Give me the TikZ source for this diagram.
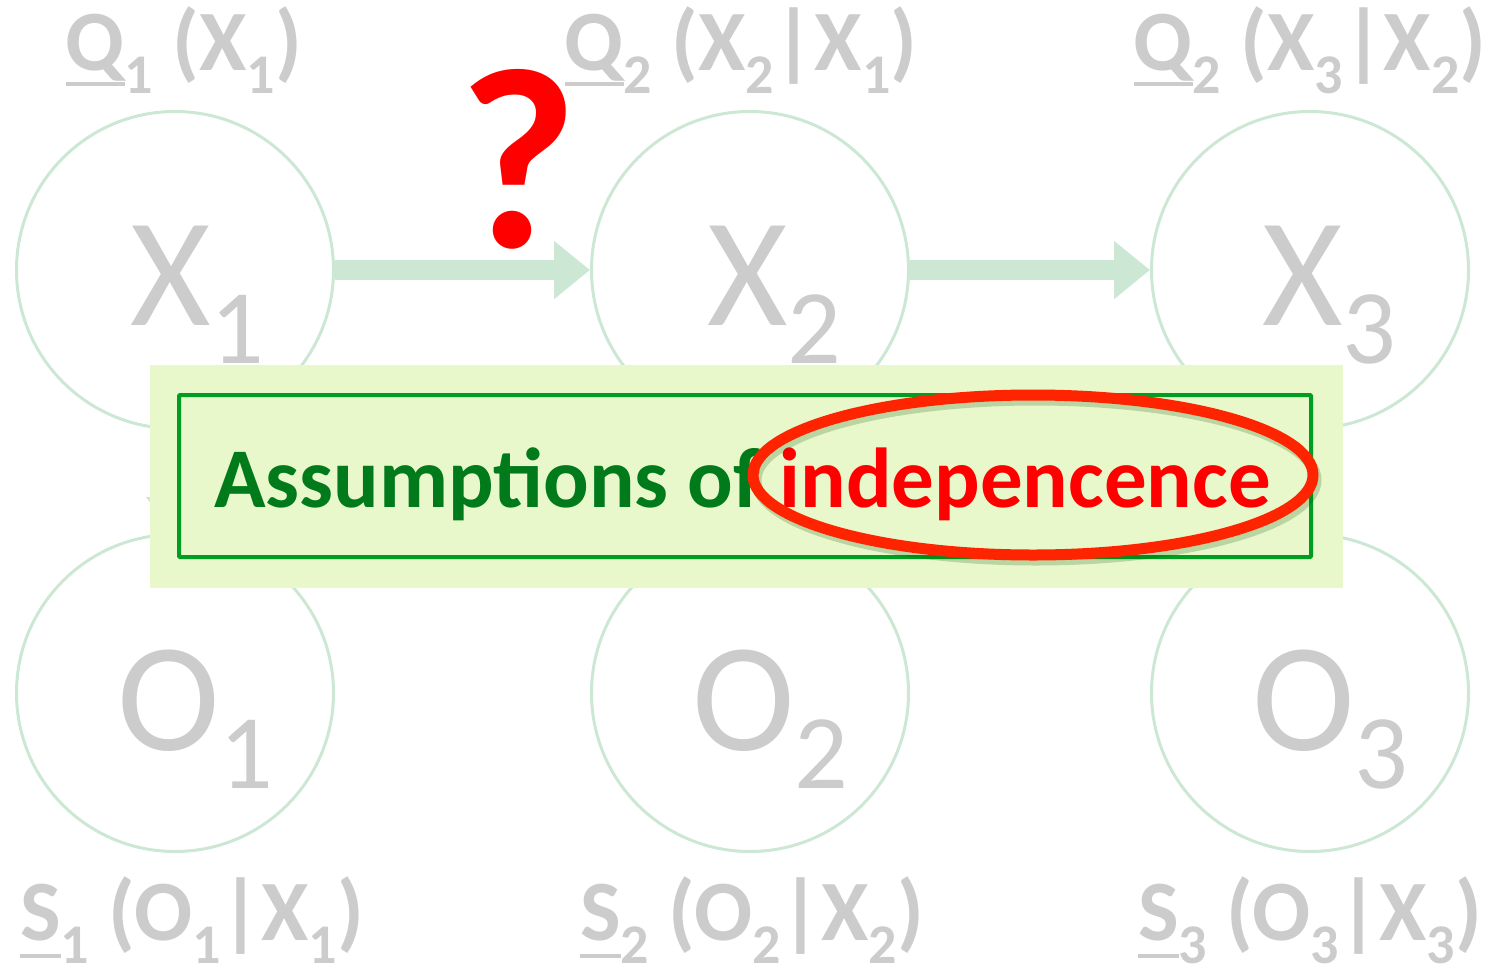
\documentclass[tikz,border=0pt]{standalone}
\usepackage{fontspec}
\setmainfont{Carlito}
\usetikzlibrary{arrows.meta}
\definecolor{circ}{RGB}{204,232,212}
\definecolor{lgray}{RGB}{204,204,204}
\definecolor{boxfill}{RGB}{233,248,202}
\definecolor{boxline}{RGB}{0,158,32}
\definecolor{dgreen}{RGB}{0,122,26}
\definecolor{ellred}{RGB}{255,36,0}
\newcommand{\Ul}[2]{\setbox0\hbox{#2}\rlap{\rule[#1]{\wd0}{4pt}}\box0}
\newcommand{\Sb}[1]{\raisebox{-23pt}{\fontsize{56}{56}\selectfont #1}}
\newcommand{\NL}[2]{{\fontsize{155}{160}\selectfont #1}\raisebox{-38pt}{\fontsize{106}{106}\selectfont #2}}
\tikzset{
  var/.style={circle, draw=circ, line width=3pt, minimum size=317pt, inner sep=0pt},
  bigarrow/.style={draw=circ, line width=20pt, -{Triangle[length=36pt,width=56pt]}},
  toplbl/.style={anchor=base, inner sep=0pt, text=lgray, font=\fontsize{86}{90}\selectfont\bfseries},
  biglbl/.style={anchor=base west, inner sep=0pt, text=lgray},
}
\begin{document}
\begin{tikzpicture}[x=1pt,y=-1pt]
\useasboundingbox (0,0) rectangle (1490,969);
% variable circles
\node[var] (X1) at (175,270) {};
\node[var] (X2) at (750,270) {};
\node[var] (X3) at (1310,270) {};
\node[var] (O1) at (175,693) {};
\node[var] (O2) at (750,693) {};
\node[var] (O3) at (1310,693) {};
% arrows
\draw[bigarrow] (X1.east) -- (X2.west);
\draw[bigarrow] (X2.east) -- (X3.west);
\draw[bigarrow] (X1.south) -- (O1.north);
\draw[bigarrow] (X2.south) -- (O2.north);
\draw[bigarrow] (X3.south) -- (O3.north);
% labels inside circles
\node[biglbl] (lx1) at (130,325) {\NL{X}{1}};
\node[biglbl] (lx2) at (707,325) {\NL{X}{2}};
\node[biglbl] (lx3) at (1262,325) {\NL{X}{3}};
\node[biglbl] (lo1) at (117,750) {\NL{O}{1}};
\node[biglbl] (lo2) at (692,750) {\NL{O}{2}};
\node[biglbl] (lo3) at (1252,750) {\NL{O}{3}};
% top labels
\node[toplbl] (q1) at (184,70) {\Ul{-16pt}{Q}\Sb{1} (X\Sb{1})};
\node[toplbl] (q2) at (741,70) {\Ul{-16pt}{Q}\Sb{2} (X\Sb{2}|X\Sb{1})};
\node[toplbl] (q3) at (1310,70) {\Ul{-16pt}{Q}\Sb{2} (X\Sb{3}|X\Sb{2})};
% bottom labels
\node[toplbl] (s1) at (192,940) {\Ul{-18pt}{S}\Sb{1} (O\Sb{1}|X\Sb{1})};
\node[toplbl] (s2) at (752,940) {\Ul{-18pt}{S}\Sb{2} (O\Sb{2}|X\Sb{2})};
\node[toplbl] (s3) at (1310,940) {\Ul{-18pt}{S}\Sb{3} (O\Sb{3}|X\Sb{3})};
% question mark
\node[anchor=base, inner sep=0pt, text=red, font=\fontsize{258}{258}\selectfont\bfseries] (qm) at (518,247) {?};
% assumption box
\fill[boxfill] (150,365) rectangle (1343,588);
\draw[boxline, line width=4pt, rounded corners=1pt] (179,395) rectangle (1311,557);
\node[anchor=base west, inner sep=0pt, font=\fontsize{85}{90}\selectfont\bfseries] (txt) at (214,507)
  {\textcolor{dgreen}{Assumptions of }\textcolor{red}{indepencence}};
% red ellipse with shadow
\draw[black!70!green, opacity=0.2, line width=11pt] (1036,480) ellipse [x radius=280, y radius=80];
\draw[ellred, line width=11pt] (1033,475) ellipse [x radius=280, y radius=80];
\end{tikzpicture}
\end{document}
